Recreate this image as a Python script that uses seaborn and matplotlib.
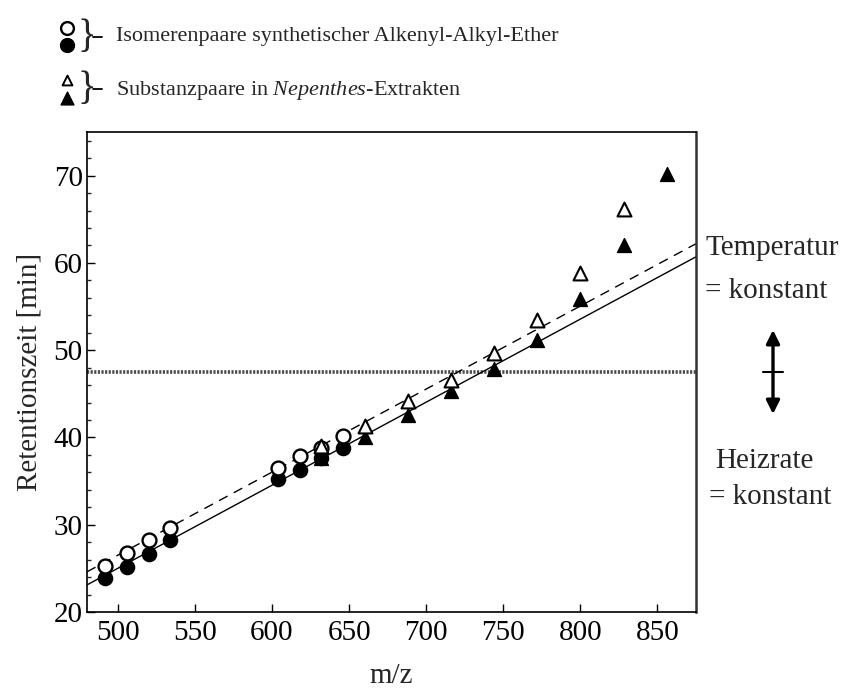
import numpy as np
import pandas as pd
import matplotlib
matplotlib.use("Agg")
import matplotlib.pyplot as plt
from matplotlib.ticker import MultipleLocator
import seaborn as sns

# Retention times of isomer pairs (synthetic alkenyl-alkyl ethers)
mz_circles = [492, 506, 520, 534, 604, 618, 632, 646]
rt_circle_open = [25.3, 26.8, 28.3, 29.6, 36.5, 37.9, 38.8, 40.2]
rt_circle_filled = [23.9, 25.1, 26.7, 28.3, 35.2, 36.3, 37.6, 38.8]

# Substance pairs found in Nepenthes extracts
mz_tri_open = [632, 660, 688, 716, 744, 772, 800, 828]
rt_tri_open = [39.0, 41.3, 44.2, 46.6, 49.7, 53.5, 58.9, 66.2]
mz_tri_filled = [632, 660, 688, 716, 744, 772, 800, 828, 856]
rt_tri_filled = [37.6, 40.0, 42.6, 45.3, 47.9, 51.2, 55.9, 62.0, 70.2]

# Linear trends of the two isomer series
trend_mz = [480, 875]
trend_dashed = [24.6, 62.2]
trend_solid = [23.1, 60.7]

# Switch from constant heating rate to constant temperature
switch_rt = 47.5

x_ticks = [500, 550, 600, 650, 700, 750, 800, 850]
y_ticks = [20, 30, 40, 50, 60, 70]

sns.set_theme(style="ticks")
plt.rcParams["font.family"] = ["Liberation Serif", "DejaVu Serif"]
plt.rcParams["mathtext.fontset"] = "custom"
plt.rcParams["mathtext.rm"] = "Liberation Serif"
plt.rcParams["mathtext.it"] = "Liberation Serif:italic"

fig = plt.figure(figsize=(8.42, 6.89), dpi=100)
ax = fig.add_axes([0.1033, 0.1118, 0.7233, 0.6966])

ax.axhline(switch_rt, color="#4a4a4a", lw=2.6, ls=(0, (0.6, 0.4)), zorder=1)

sns.lineplot(x=trend_mz, y=trend_dashed, ax=ax, color="black", lw=1.0,
             linestyle=(0, (7, 5)), zorder=2)
sns.lineplot(x=trend_mz, y=trend_solid, ax=ax, color="black", lw=1.0, zorder=2)

ms_c = 100
ms_t = 100
sns.scatterplot(x=mz_circles, y=rt_circle_filled, ax=ax, marker="o", s=ms_c,
                color="black", edgecolor="black", linewidth=1.2, zorder=3)
sns.scatterplot(x=mz_circles, y=rt_circle_open, ax=ax, marker="o", s=ms_c,
                color="white", edgecolor="black", linewidth=1.7, zorder=3)
sns.scatterplot(x=mz_tri_filled, y=rt_tri_filled, ax=ax, marker="^", s=ms_t,
                color="black", edgecolor="black", linewidth=1.0, zorder=4)
sns.scatterplot(x=mz_tri_open, y=rt_tri_open, ax=ax, marker="^", s=ms_t,
                color="white", edgecolor="black", linewidth=1.5, zorder=4)

ax.set_xlim(480, 875)
ax.set_ylim(20, 75)
ax.set_xticks(x_ticks)
ax.set_yticks(y_ticks)
ax.yaxis.set_minor_locator(MultipleLocator(2))
ax.tick_params(axis="both", which="major", direction="in", length=6, width=1,
               labelsize=21, colors="black")
ax.tick_params(axis="y", which="major", pad=3)
ax.tick_params(axis="x", which="major", pad=6)
ax.tick_params(axis="y", which="minor", direction="in", length=3, width=1)
for side in ["top", "right", "left", "bottom"]:
    ax.spines[side].set_visible(True)
    ax.spines[side].set_linewidth(1.2)
    ax.spines[side].set_color("black")
ax.spines["right"].set_linewidth(1.8)
ax.spines["right"].set_color("#333333")

ax.set_xlabel("m/z", fontsize=21, labelpad=12)
ax.set_ylabel("Retentionszeit [min]", fontsize=21, labelpad=8)

# Key above the plot, drawn in pixel coordinates of the figure
fig_ax = fig.add_axes([0, 0, 1, 1], facecolor="none")
fig_ax.set_xlim(0, 842)
fig_ax.set_ylim(689, 0)
fig_ax.axis("off")
fig_ax.scatter([67], [28], s=85, marker="o", facecolor="white", edgecolor="black", linewidth=1.7)
fig_ax.scatter([67], [45], s=100, marker="o", facecolor="black", edgecolor="black")
fig_ax.scatter([67], [80], s=50, marker="^", facecolor="white", edgecolor="black", linewidth=1.4)
fig_ax.scatter([67], [98], s=85, marker="^", facecolor="black", edgecolor="black")
for yc in (37, 89):
    fig_ax.text(87, yc, "}", fontsize=28, ha="center", va="center")
    fig_ax.plot([93, 102], [yc, yc], color="black", lw=1.3)
fig_ax.text(116, 37, "Isomerenpaare synthetischer Alkenyl-Alkyl-Ether",
            fontsize=16, ha="left", va="center")
fig_ax.text(116, 90, r"Substanzpaare in $\it{Nepenthes}$-Extrakten",
            fontsize=16, ha="left", va="center")

# Right-hand annotations
fig_ax.text(705, 248, "Temperatur", fontsize=21, ha="left", va="center")
fig_ax.text(705, 291, "= konstant", fontsize=21, ha="left", va="center")
fig_ax.text(715, 461, "Heizrate", fontsize=21, ha="left", va="center")
fig_ax.text(709, 497, "= konstant", fontsize=21, ha="left", va="center")
fig_ax.annotate("", xy=(773, 330), xytext=(773, 414),
                arrowprops=dict(arrowstyle="<|-|>", color="black", lw=2.4,
                                mutation_scale=20, shrinkA=0, shrinkB=0))
fig_ax.plot([763, 783], [372, 372], color="black", lw=1.5)

fig.savefig("out.png", dpi=100)
